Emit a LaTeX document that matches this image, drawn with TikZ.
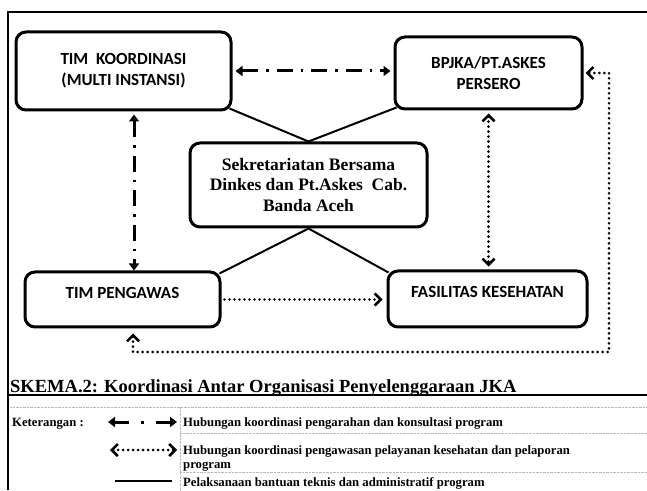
\documentclass[tikz,border=0pt]{standalone}
\usepackage{fontspec}
\setmainfont{Liberation Serif}
\newfontfamily\calfont{Carlito}
\usepackage{tikz}
\usetikzlibrary{positioning,arrows.meta,calc}

\begin{document}
\begin{tikzpicture}[x=1pt, y=1pt,
  kotak/.style={draw, line width=3pt, rounded corners=10pt, align=center, inner sep=0pt,
    font=\calfont\bfseries\fontsize{17}{21}\selectfont},
  kotakser/.style={kotak, font=\bfseries\fontsize{17.5}{20.5}\selectfont},
  atas/.style={text height=11pt, text depth=13pt},
  garis/.style={line width=2pt},
  arahan/.style={line width=3pt, dash pattern=on 16pt off 8pt on 2.5pt off 8pt,
    >={Triangle[length=7pt,width=10pt]}},
  awas/.style={line width=2.8pt, line cap=round, dash pattern=on 0pt off 5pt,
    >={Straight Barb[length=6pt,width=12pt,line width=2.6pt]}},
  ket/.style={font=\bfseries\fontsize{12.7}{15}\selectfont, anchor=base west, inner sep=0pt},
  sekat/.style={gray!55, line width=0.4pt, densely dotted}
]
  \useasboundingbox (0,0) rectangle (647,490);

  % --- bingkai ---
  \draw[line width=1.8pt] (8,0) -- (8,478) -- (647,478);

  % --- kotak organisasi ---
  \node[kotak, minimum width=215pt, minimum height=78pt] (koord) at (123.5,419)
    {TIM\ \ KOORDINASI\\(MULTI INSTANSI)};
  \node[kotak, minimum width=187pt, minimum height=72pt] (bpjka) at (488.5,417)
    {BPJKA/PT.ASKES\\PERSERO};
  \node[kotakser, minimum width=237pt, minimum height=84pt] (sekber) at (308.5,305)
    {Sekretariatan Bersama\\Dinkes dan Pt.Askes\ \ Cab.\\Banda Aceh};
  \node[kotak, atas, minimum width=195pt, minimum height=55pt] (pengawas) at (122.5,190.5)
    {TIM PENGAWAS};
  \node[kotak, atas, minimum width=199pt, minimum height=56pt] (faskes) at (487.5,191)
    {FASILITAS KESEHATAN};

  % --- bantuan teknis (garis penuh) ---
  \draw[garis] ([xshift=-3pt,yshift=3pt]koord.south east) -- (sekber.north);
  \draw[garis] ([xshift=3pt,yshift=3pt]bpjka.south west) -- (sekber.north);
  \draw[garis] (sekber.south) -- ([xshift=-2pt,yshift=-3pt]pengawas.north east);
  \draw[garis] (sekber.south) -- ([xshift=2pt,yshift=-3pt]faskes.north west);

  % --- pengarahan dan konsultasi ---
  \draw[arahan, <->, shorten <=3pt, shorten >=3pt] (koord.east) -- (koord.east -| bpjka.west);
  \draw[arahan, <->, shorten <=3pt] ([xshift=10.5pt]koord.south) -- ([xshift=10.5pt]koord.south |- pengawas.north);

  % --- pengawasan dan pelaporan ---
  \draw[awas, <->, shorten <=3pt, shorten >=3pt] (bpjka.south) -- (bpjka.south |- faskes.north);
  \draw[awas, ->, shorten <=3pt, shorten >=4pt] (pengawas.east) -- (pengawas.east -| faskes.west);
  \coordinate (sudut) at (609,138);
  \draw[awas, <->, shorten <=5pt, shorten >=2pt] ([xshift=10.5pt]pengawas.south) |- (sudut) |- (bpjka.east);

  % --- judul ---
  \node[font=\bfseries\fontsize{18.5}{22}\selectfont, anchor=base west, inner sep=0pt] (judul) at (10,98)
    {SKEMA.2: Koordinasi Antar Organisasi Penyelenggaraan JKA};
  \draw[line width=1.8pt] (8,95) -- (647,95);

  % --- keterangan ---
  \draw[sekat] (10,83) -- (647,83);
  \draw[sekat] (180,57) -- (647,57);
  \draw[sekat] (180,18) -- (647,18);
  \draw[sekat] (180,83) -- (180,0);
  \node[ket] (ketr) at (12,64) {Keterangan :};
  \node[ket] (leg1) at (183,64) {Hubungan koordinasi pengarahan dan konsultasi program};
  \node[ket] (leg2) at (183,36) {Hubungan koordinasi pengawasan pelayanan kesehatan dan pelaporan};
  \node[ket] (leg2b) at (183,22) {program};
  \node[ket] (leg3) at (183,3.5) {Pelaksanaan bantuan teknis dan administratif program};
  \coordinate (a1) at (108,68); \coordinate (b1) at (177,68);
  \coordinate (a2) at (110,40); \coordinate (b2) at (177,40);
  \coordinate (a3) at (115,9);  \coordinate (b3) at (172,9);
  \draw[arahan, <->, dash pattern=on 14pt off 12pt on 3pt off 12pt on 30pt] (a1) -- (b1);
  \draw[awas, <->] (a2) -- (b2);
  \draw[line width=2.6pt] (a3) -- (b3);
\end{tikzpicture}
\end{document}
